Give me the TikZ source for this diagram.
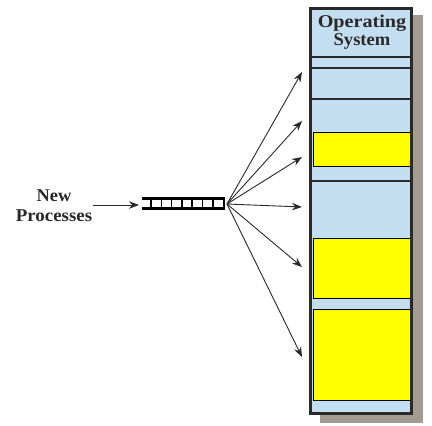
\documentclass[tikz,border=0pt]{standalone}
\usepackage{fontspec}
\setmainfont{Liberation Serif}
\usetikzlibrary{arrows.meta}
\definecolor{memblue}{HTML}{C2DEF0}
\definecolor{memyellow}{HTML}{FFFF00}
\definecolor{shadowgray}{HTML}{A39C90}
\definecolor{darkline}{HTML}{2A2828}
\tikzset{
  lbl/.style={font=\bfseries\fontsize{18}{20}\selectfont, text=darkline, inner sep=0pt},
  sep/.style={draw=darkline, line width=1.1pt},
  ybox/.style={fill=memyellow, draw=black, line width=0.9pt},
  fan/.style={draw=darkline, line width=0.9pt, -{Stealth[length=10pt,width=7.5pt]}},
  qbar/.style={draw=black, line width=3pt},
  qdiv/.style={draw=black, line width=1.5pt}
}
\begin{document}
\begin{tikzpicture}[x=1pt,y=-1pt]
\useasboundingbox (0,0) rectangle (432,426);
% shadow
\fill[shadowgray] (320,15) rectangle (423,423);
% memory column
\fill[memblue] (310,8) rectangle (412,414);
\draw[ybox] (313,132) rectangle (411,166);
\draw[ybox] (313,238) rectangle (411,298);
\draw[ybox] (313,309) rectangle (411,400);
\foreach \yy in {57,68,99,181} \draw[sep] (311,\yy) -- (411,\yy);
\draw[darkline, line width=3pt] (310.5,8.5) rectangle (411.5,413.5);
\node[lbl] (os1) at (362,23) {\scalebox{1.12}[1]{Operating}};
\node[lbl] (os2) at (362,41) {\scalebox{1.03}[1]{System}};
% queue
\draw[qbar] (142,198.5) -- (225,198.5);
\draw[qbar] (142,208) -- (225,208);
\foreach \k in {0,...,6} \draw[qdiv] (151+\k*10.3,198.5) -- (151+\k*10.3,208);
\draw[black, line width=2.2pt] (224,197) -- (224,209.5);
\coordinate (qin) at (139,205);
\coordinate (qout) at (227,204);
% label
\node[lbl, align=center] (newp) at (54,205.5) {\scalebox{1.02}[1]{New}\\\scalebox{1.05}[1]{Processes}};
\coordinate (newend) at (93,205);
\draw[fan] (newend) -- (qin);
% fan arrows
\coordinate (t1) at (302,72);
\coordinate (t2) at (302,121);
\coordinate (t3) at (302,157);
\coordinate (t4) at (302,207);
\coordinate (t5) at (302,267);
\coordinate (t6) at (302,357);
\foreach \t in {t1,t2,t3,t4,t5,t6} \draw[fan] (qout) -- (\t);
\end{tikzpicture}
\end{document}
